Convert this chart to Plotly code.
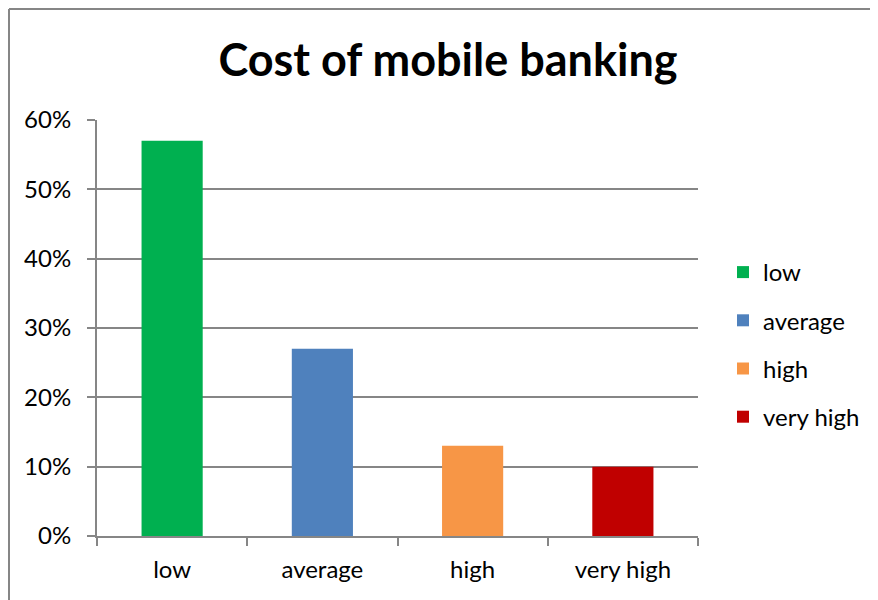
import plotly.graph_objects as go

categories = ["low", "average", "high", "very high"]
values = [0.57, 0.27, 0.13, 0.10]
colors = ["#00B050", "#4F81BD", "#F79646", "#C00000"]
y_ticks = [0, 0.1, 0.2, 0.3, 0.4, 0.5, 0.6]
y_tick_labels = ["0%", "10%", "20%", "30%", "40%", "50%", "60%"]

FONT = "Lato, Open Sans, sans-serif"

fig = go.Figure()
for cat, val, col in zip(categories, values, colors):
    fig.add_trace(go.Bar(
        x=[cat], y=[val], name=cat, marker_color=col,
        marker_line_width=0, legendgroup=cat, showlegend=True,
    ))

# page body has an 8px margin; work in window pixel coordinates
OFF = 8
W, H = 878 - OFF, 600 - OFF
L, R, T, B = 97 - OFF, 180, 120 - OFF, 64
pw, ph = W - L - R, H - T - B

def px2x(px):
    return (px - OFF - L) / pw

def py2y(py):
    return (H - B - (py - OFF)) / ph

border = dict(color="#868686", width=2)

fig.update_layout(
    width=W, height=H,
    margin=dict(l=L, r=R, t=T, b=B, autoexpand=False),
    paper_bgcolor="white", plot_bgcolor="white",
    barmode="overlay", bargap=0.593,
    title=dict(text="<b>Cost of mobile banking</b>", x=(448 - OFF) / W, xanchor="center",
               y=1 - (60 - OFF) / H, yanchor="middle",
               font=dict(family=FONT, size=45, color="black")),
    font=dict(family=FONT, size=24, color="black"),
    legend=dict(x=px2x(723), xanchor="left", y=py2y(250), yanchor="top",
                font=dict(family=FONT, size=24, color="black"),
                tracegroupgap=14, itemwidth=30, bgcolor="rgba(0,0,0,0)"),
    xaxis=dict(type="category", categoryorder="array", categoryarray=categories,
               showline=True, linecolor="#868686", linewidth=2,
               ticks="outside", tickson="boundaries", ticklen=8, tickwidth=2,
               tickcolor="#868686", showgrid=False,
               tickfont=dict(family=FONT, size=24, color="black"),
               ticklabelstandoff=11),
    yaxis=dict(range=[0, 0.6], tickvals=y_ticks, ticktext=y_tick_labels,
               showline=True, linecolor="#868686", linewidth=2,
               ticks="outside", ticklen=8, tickwidth=2, tickcolor="#868686",
               showgrid=True, gridcolor="#868686", gridwidth=2,
               zeroline=False,
               tickfont=dict(family=FONT, size=24, color="black"),
               ticklabelstandoff=11),
    shapes=[
        dict(type="line", xref="paper", yref="paper",
             x0=px2x(9), x1=px2x(878), y0=py2y(9), y1=py2y(9), line=border),
        dict(type="line", xref="paper", yref="paper",
             x0=px2x(9), x1=px2x(9), y0=py2y(9), y1=py2y(600), line=border),
    ],
)

fig.write_html("out.html")
